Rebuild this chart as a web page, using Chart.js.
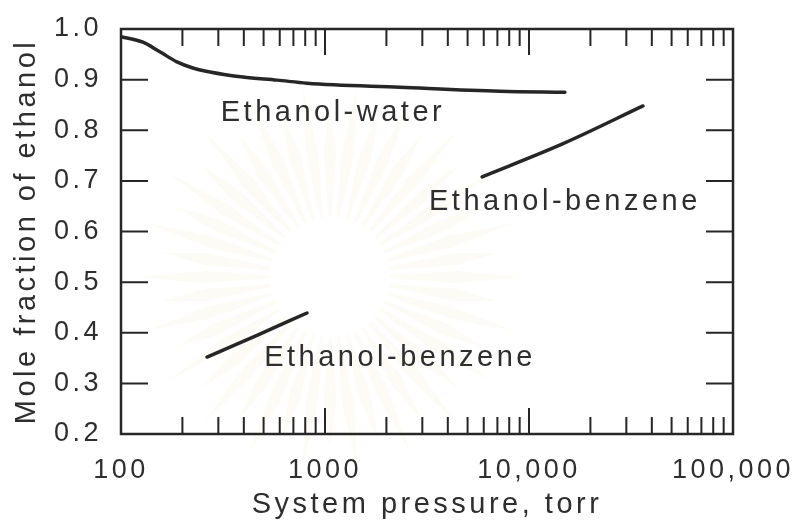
<!DOCTYPE html>
<html>
<head>
<meta charset="utf-8">
<script src="https://cdn.jsdelivr.net/npm/chart.js@4.4.1/dist/chart.umd.min.js"></script>
<style>
  html, body { margin: 0; padding: 0; background: #ffffff; }
  #wrap { width: 799px; height: 528px; position: relative; }
</style>
</head>
<body>
<div id="wrap"><canvas id="chart"></canvas></div>
<script>
// Azeotrope composition versus system pressure
const pressureWater   = [100, 128, 155, 188, 225, 273, 396, 582, 816, 2330, 7210, 15000];
const fractionWater   = [0.985, 0.974, 0.955, 0.935, 0.923, 0.915, 0.905, 0.899, 0.893, 0.885, 0.877, 0.875];

const pressureBenzeneLow  = [264, 464, 816];
const fractionBenzeneLow  = [0.352, 0.395, 0.439];

const pressureBenzeneHigh = [5890, 14600, 36200];
const fractionBenzeneHigh = [0.708, 0.773, 0.848];

// Curve names and where they sit (pressure, mole fraction)
const curveNames          = ['Ethanol-water', 'Ethanol-benzene', 'Ethanol-benzene'];
const curveNamePressure   = [1094, 15000, 2333];
const curveNameFraction   = [0.834, 0.658, 0.350];

// Axis ticks
const xTickValues = [100, 1000, 10000, 100000];
const xTickLabels = ['100', '1000', '10,000', '100,000'];
const yTickValues = [0.2, 0.3, 0.4, 0.5, 0.6, 0.7, 0.8, 0.9, 1.0];
const yTickLabels = ['0.2', '0.3', '0.4', '0.5', '0.6', '0.7', '0.8', '0.9', '1.0'];

const INK = '#262626';
const TEXT = '#2e2e2e';
const FAMILY = '"Liberation Sans", Arial, Helvetica, sans-serif';
const SPACING = '3.5px';

const toPoints = (xs, ys) => xs.map((v, i) => ({ x: v, y: ys[i] }));

// Faint sunburst emblem behind the plot
const emblem = {
  id: 'emblem',
  beforeLayout(chart) { chart.ctx.letterSpacing = SPACING; },
  beforeDraw(chart) {
    const { ctx } = chart;
    ctx.letterSpacing = SPACING;
    ctx.save();
    ctx.fillStyle = '#ffffff';
    ctx.fillRect(0, 0, chart.width, chart.height);
    const cx = 330, cy = 277;
    const n = 44;
    ctx.fillStyle = 'rgba(236, 218, 160, 0.10)';
    for (let i = 0; i < n; i++) {
      const a = (i / n) * Math.PI * 2;
      const outer = i % 2 === 0 ? 192 : 170;
      const w1 = 0.025, w2 = 0.05;
      const p = (r, ang) => [cx + r * Math.cos(ang), cy + r * Math.sin(ang)];
      ctx.beginPath();
      let q = p(60, a - w1); ctx.moveTo(q[0], q[1]);
      q = p(125, a - w2); ctx.lineTo(q[0], q[1]);
      q = p(outer, a); ctx.lineTo(q[0], q[1]);
      q = p(125, a + w2); ctx.lineTo(q[0], q[1]);
      q = p(60, a + w1); ctx.lineTo(q[0], q[1]);
      ctx.closePath();
      ctx.fill();
    }
    ctx.restore();
  }
};

// Box frame with inward ticks on all four sides
const frame = {
  id: 'frame',
  afterDatasetsDraw(chart) {
    const { ctx, chartArea: a, scales: { x, y } } = chart;
    ctx.save();
    ctx.strokeStyle = INK;
    ctx.lineWidth = 2.5;
    ctx.strokeRect(a.left, a.top, a.right - a.left, a.bottom - a.top);
    ctx.lineWidth = 2;
    ctx.beginPath();
    yTickValues.forEach(v => {
      const py = y.getPixelForValue(v);
      if (py <= a.top + 1 || py >= a.bottom - 1) return;
      ctx.moveTo(a.left, py);  ctx.lineTo(a.left + 27, py);
      ctx.moveTo(a.right, py); ctx.lineTo(a.right - 27, py);
    });
    for (let d = 100; d < 100000; d *= 10) {
      for (let m = 1; m < 10; m++) {
        if (d === 100 && m === 1) continue;
        const px = x.getPixelForValue(d * m);
        const len = m === 1 ? 26 : 17;
        ctx.moveTo(px, a.top);    ctx.lineTo(px, a.top + len);
        ctx.moveTo(px, a.bottom); ctx.lineTo(px, a.bottom - len);
      }
    }
    ctx.stroke();
    ctx.restore();
  }
};

// Curve names placed in data coordinates
const names = {
  id: 'names',
  afterDatasetsDraw(chart) {
    const { ctx, scales: { x, y } } = chart;
    ctx.save();
    ctx.letterSpacing = SPACING;
    ctx.font = '29px ' + FAMILY;
    ctx.fillStyle = TEXT;
    ctx.textAlign = 'center';
    ctx.textBaseline = 'middle';
    curveNames.forEach((t, i) => {
      ctx.fillText(t, x.getPixelForValue(curveNamePressure[i]), y.getPixelForValue(curveNameFraction[i]));
    });
    ctx.restore();
  }
};

const lineStyle = {
  borderColor: INK,
  borderWidth: 3.5,
  pointRadius: 0,
  fill: false,
  cubicInterpolationMode: 'monotone',
  borderCapStyle: 'round'
};

new Chart(document.getElementById('chart'), {
  type: 'line',
  data: {
    datasets: [
      Object.assign({ label: 'Ethanol-water', data: toPoints(pressureWater, fractionWater) }, lineStyle),
      Object.assign({ label: 'Ethanol-benzene (low pressure)', data: toPoints(pressureBenzeneLow, fractionBenzeneLow) }, lineStyle),
      Object.assign({ label: 'Ethanol-benzene (high pressure)', data: toPoints(pressureBenzeneHigh, fractionBenzeneHigh) }, lineStyle)
    ]
  },
  options: {
    responsive: true,
    maintainAspectRatio: false,
    animation: false,
    devicePixelRatio: 1,
    layout: { padding: { left: 0, right: 66, top: 29, bottom: 0 } },
    plugins: { legend: { display: false }, tooltip: { enabled: false } },
    scales: {
      x: {
        type: 'logarithmic',
        position: 'bottom',
        min: 100,
        max: 100000,
        grid: { display: false },
        border: { display: false },
        afterBuildTicks: s => { s.ticks = xTickValues.map(v => ({ value: v })); },
        afterFit: s => { s.height = 94; s.paddingLeft = 0; s.paddingRight = 0; },
        ticks: {
          autoSkip: false,
          maxRotation: 0,
          padding: 12,
          color: TEXT,
          font: { family: FAMILY, size: 27 },
          callback: (v, i) => xTickLabels[i]
        },
        title: {
          display: true,
          text: 'System pressure, torr',
          color: TEXT,
          font: { family: FAMILY, size: 29 },
          padding: { top: 0, bottom: 6 }
        }
      },
      y: {
        type: 'linear',
        min: 0.2,
        max: 1.0,
        grid: { display: false },
        border: { display: false },
        afterBuildTicks: s => { s.ticks = yTickValues.map(v => ({ value: v })); },
        afterFit: s => { s.width = 121; s.paddingTop = 0; s.paddingBottom = 0; },
        ticks: {
          padding: 11,
          color: TEXT,
          font: { family: FAMILY, size: 27 },
          callback: (v, i) => yTickLabels[i]
        },
        title: {
          display: true,
          text: 'Mole fraction of ethanol',
          color: TEXT,
          font: { family: FAMILY, size: 29 },
          padding: { top: 10, bottom: 0 }
        }
      }
    }
  },
  plugins: [emblem, frame, names]
});
</script>
</body>
</html>
